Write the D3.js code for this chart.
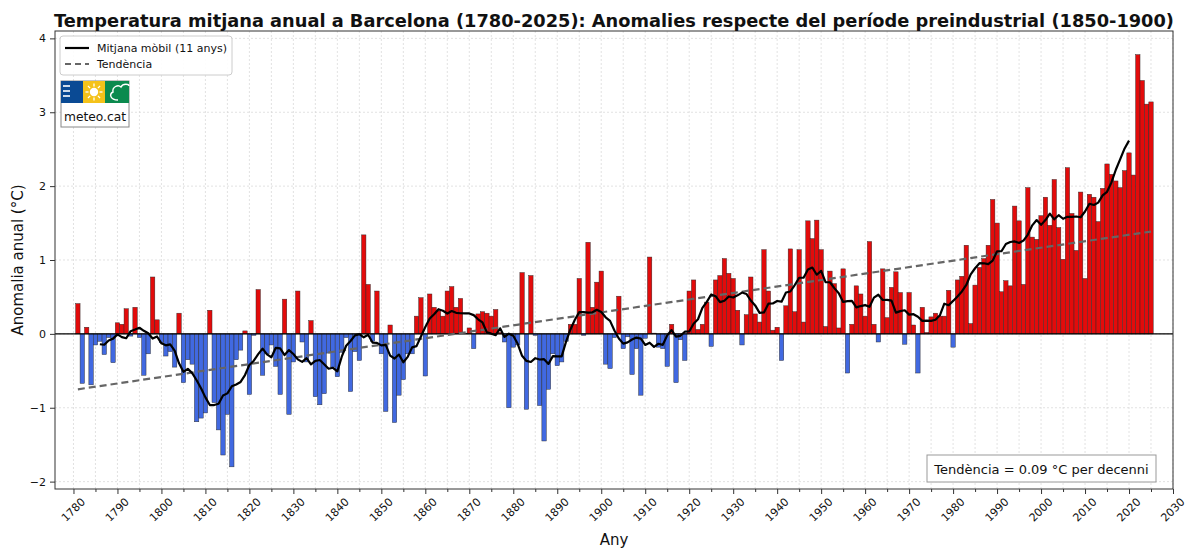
<!DOCTYPE html>
<html>
<head>
<meta charset="utf-8">
<script src="https://cdn.jsdelivr.net/npm/d3@7"></script>
<style>
  body { margin: 0; background: #fff; }
  svg { display: block; }
  text { font-family: "DejaVu Sans", sans-serif; fill: #111; }
</style>
</head>
<body>
<svg id="chart" width="1200" height="560"></svg>
<script>
// anomalies (°C) vs 1850-1900, one value per year starting in 1781
const firstYear = 1781;
const anom1781_1810 = [0.41, -0.67, 0.09, -0.69, -0.15, -0.10, -0.28, -0.05, -0.39, 0.15,
  0.13, 0.34, -0.03, 0.36, -0.05, -0.56, -0.27, 0.77, 0.19, -0.12,
  -0.30, -0.24, -0.45, 0.28, -0.66, -0.35, -0.41, -1.19, -1.14, -1.07];
const anom1811_1850 = [0.32, -0.93, -1.30, -1.64, -1.09, -1.80, -0.35, -0.22, 0.04, -0.82,
  -0.02, 0.60, -0.56, -0.27, -0.15, -0.44, -0.82, 0.47, -1.09, -0.38,
  0.58, -0.11, -0.38, 0.18, -0.85, -0.96, -0.81, -0.26, -0.45, -0.58,
  -0.25, -0.05, -0.78, -0.24, -0.36, 1.34, 0.67, -0.10, 0.58, -0.27];
const anom1851_1890 = [-1.05, 0.12, -1.20, -0.83, -0.62, -0.27, -0.27, 0.24, 0.49, -0.57,
  0.54, 0.36, 0.31, 0.24, 0.58, 0.64, 0.36, 0.48, 0.01, 0.08,
  -0.20, 0.27, 0.30, 0.28, 0.24, 0.33, 0.02, -0.11, -1.00, -0.18,
  -0.15, 0.83, -1.02, 0.79, -0.02, -0.97, -1.45, -0.75, -0.27, -0.43];
const anom1891_1930 = [-0.38, -0.10, 0.13, 0.13, 0.75, -0.02, 1.24, 0.36, 0.70, 0.85,
  -0.41, -0.47, -0.05, 0.51, -0.20, -0.04, -0.55, -0.20, -0.83, -0.06,
  1.04, 0.01, -0.18, -0.20, -0.44, 0.13, -0.66, -0.08, -0.36, 0.58,
  0.73, 0.06, 0.13, 0.43, -0.17, 0.73, 0.79, 1.02, 0.82, 0.75];
const anom1931_1970 = [0.32, -0.15, 0.26, 0.77, 0.27, 0.16, 1.14, 0.58, 0.05, 0.09,
  -0.36, 0.38, 1.15, 0.30, 1.14, 0.16, 1.53, 1.29, 1.54, 1.14,
  0.10, 0.85, 0.68, 0.08, 0.88, -0.53, 0.13, 0.65, 0.54, 0.24,
  1.25, 0.13, -0.11, 0.88, 0.22, 0.63, 0.84, 0.56, -0.14, 0.56];
const anom1971_2025 = [0.12, -0.53, 0.36, 0.02, 0.23, 0.28, 0.24, 0.24, 0.59, -0.18,
  0.73, 0.78, 1.20, 0.14, 0.66, 0.90, 1.02, 1.20, 1.82, 1.50,
  0.57, 0.72, 0.65, 1.73, 1.53, 0.67, 1.98, 1.31, 1.28, 1.60,
  1.85, 1.47, 2.09, 1.44, 1.01, 2.25, 1.63, 1.13, 1.92, 0.75,
  1.89, 1.85, 1.52, 1.97, 2.30, 2.16, 2.07, 1.98, 2.21, 2.45,
  2.15, 3.78, 3.43, 3.11, 3.14];

const anomalies = [].concat(anom1781_1810, anom1811_1850, anom1851_1890,
  anom1891_1930, anom1931_1970, anom1971_2025);
const years = anomalies.map((d, i) => firstYear + i);

const xTicks = [1780, 1790, 1800, 1810, 1820, 1830, 1840, 1850, 1860, 1870, 1880, 1890, 1900,
  1910, 1920, 1930, 1940, 1950, 1960, 1970, 1980, 1990, 2000, 2010, 2020, 2030];
const xMinorTicks = [1785, 1795, 1805, 1815, 1825, 1835, 1845, 1855, 1865, 1875, 1885, 1895,
  1905, 1915, 1925, 1935, 1945, 1955, 1965, 1975, 1985, 1995, 2005, 2015, 2025];
const yTicks = [-2, -1, 0, 1, 2, 3, 4];

const titleText = "Temperatura mitjana anual a Barcelona (1780-2025): Anomalies respecte del període preindustrial (1850-1900)";
const legendLabels = ["Mitjana mòbil (11 anys)", "Tendència"];
const trendLabel = "Tendència = 0.09 °C per decenni";

const data = years.map((y, i) => ({ year: y, value: anomalies[i] }));

// 11-year centred moving average
const half = 5;
const rolling = [];
for (let i = half; i < data.length - half; i++) {
  rolling.push({ year: data[i].year, value: d3.mean(data.slice(i - half, i + half + 1), d => d.value) });
}

// least squares trend
const mx = d3.mean(data, d => d.year), my = d3.mean(data, d => d.value);
const slope = d3.sum(data, d => (d.year - mx) * (d.value - my)) / d3.sum(data, d => (d.year - mx) ** 2);
const intercept = my - slope * mx;
const trend = [years[0], years[years.length - 1]].map(y => ({ year: y, value: intercept + slope * y }));

const margin = { top: 31, right: 27, bottom: 71, left: 55 };
const width = 1200, height = 560;

const x = d3.scaleLinear().domain([1775.8, 2030]).range([margin.left, width - margin.right]);
const y = d3.scaleLinear().domain([-2.1, 4.1]).range([height - margin.bottom, margin.top]);

const svg = d3.select("#chart");

// grid
svg.append("g")
  .selectAll("line")
  .data(xTicks.concat(xMinorTicks))
  .join("line")
  .attr("x1", d => x(d)).attr("x2", d => x(d))
  .attr("y1", y.range()[1]).attr("y2", y.range()[0])
  .attr("stroke", "#d6d6d6").attr("stroke-width", 0.7).attr("stroke-dasharray", "2,2");
svg.append("g")
  .selectAll("line")
  .data(yTicks)
  .join("line")
  .attr("x1", x.range()[0]).attr("x2", x.range()[1])
  .attr("y1", d => y(d)).attr("y2", d => y(d))
  .attr("stroke", "#d6d6d6").attr("stroke-width", 0.7).attr("stroke-dasharray", "2,2");

// bars
svg.append("g")
  .selectAll("rect")
  .data(data)
  .join("rect")
  .attr("x", d => x(d.year - 0.5))
  .attr("width", x(1) - x(0))
  .attr("y", d => y(Math.max(0, d.value)))
  .attr("height", d => Math.abs(y(d.value) - y(0)))
  .attr("fill", d => d.value >= 0 ? "#e30b0b" : "#4169e1")
  .attr("stroke", "#2a2a2a")
  .attr("stroke-width", 0.45);

// zero line
svg.append("line")
  .attr("x1", x.range()[0]).attr("x2", x.range()[1])
  .attr("y1", y(0)).attr("y2", y(0))
  .attr("stroke", "#000").attr("stroke-width", 1.1);

// trend
const line = d3.line().x(d => x(d.year)).y(d => y(d.value));
svg.append("path")
  .datum(trend)
  .attr("d", line)
  .attr("fill", "none")
  .attr("stroke", "#666")
  .attr("stroke-width", 2.2)
  .attr("stroke-dasharray", "7,4");

// moving average
svg.append("path")
  .datum(rolling)
  .attr("d", line)
  .attr("fill", "none")
  .attr("stroke", "#000")
  .attr("stroke-width", 2.2)
  .attr("stroke-linejoin", "round");

// frame
svg.append("rect")
  .attr("x", x.range()[0]).attr("y", y.range()[1])
  .attr("width", x.range()[1] - x.range()[0])
  .attr("height", y.range()[0] - y.range()[1])
  .attr("fill", "none").attr("stroke", "#333").attr("stroke-width", 1);

// x axis
const xAxis = svg.append("g").attr("transform", `translate(0,${y.range()[0]})`);
xAxis.call(d3.axisBottom(x).tickValues(xTicks).tickSize(5).tickFormat(""))
  .call(g => g.select(".domain").remove())
  .call(g => g.selectAll("line").attr("stroke", "#333"));
xAxis.append("g").call(d3.axisBottom(x).tickValues(xMinorTicks).tickSize(3).tickFormat(""))
  .call(g => g.select(".domain").remove())
  .call(g => g.selectAll("line").attr("stroke", "#333"));
xAxis.selectAll(null)
  .data(xTicks)
  .join("text")
  .attr("transform", d => `translate(${x(d)},21) rotate(-45)`)
  .attr("text-anchor", "middle")
  .attr("dominant-baseline", "central")
  .attr("font-size", 11)
  .text(d => d);

// y axis
svg.append("g")
  .attr("transform", `translate(${x.range()[0]},0)`)
  .call(d3.axisLeft(y).tickValues(yTicks).tickSize(5).tickPadding(4).tickFormat(d => d < 0 ? "\u2212" + Math.abs(d) : d))
  .call(g => g.select(".domain").remove())
  .call(g => g.selectAll("line").attr("stroke", "#333"))
  .call(g => g.selectAll("text").attr("font-size", 11).attr("font-family", "DejaVu Sans").attr("fill", "#111"));

// labels
svg.append("text")
  .attr("x", (x.range()[0] + x.range()[1]) / 2).attr("y", 27)
  .attr("text-anchor", "middle")
  .attr("font-size", 17.8).attr("font-weight", "bold")
  .text(titleText);
svg.append("text")
  .attr("x", (x.range()[0] + x.range()[1]) / 2).attr("y", 545)
  .attr("text-anchor", "middle")
  .attr("font-size", 15)
  .text("Any");
svg.append("text")
  .attr("transform", `translate(23,${(y.range()[0] + y.range()[1]) / 2}) rotate(-90)`)
  .attr("text-anchor", "middle")
  .attr("font-size", 15)
  .text("Anomalia anual (°C)");

// legend
const lg = svg.append("g");
lg.append("rect").attr("x", 60).attr("y", 36).attr("width", 172).attr("height", 39)
  .attr("rx", 3).attr("fill", "#fff").attr("fill-opacity", 0.9).attr("stroke", "#ccc");
lg.append("line").attr("x1", 65).attr("x2", 89).attr("y1", 48).attr("y2", 48)
  .attr("stroke", "#000").attr("stroke-width", 2.2);
lg.append("line").attr("x1", 65).attr("x2", 89).attr("y1", 64).attr("y2", 64)
  .attr("stroke", "#666").attr("stroke-width", 2.2).attr("stroke-dasharray", "6,4");
lg.selectAll(null).data(legendLabels).join("text")
  .attr("x", 97).attr("y", (d, i) => 52 + i * 16)
  .attr("font-size", 11)
  .text(d => d);

// meteo.cat logo
const logo = svg.append("g").attr("transform", "translate(61,81)");
logo.append("rect").attr("width", 68).attr("height", 46).attr("fill", "#fff").attr("stroke", "#888");
logo.append("rect").attr("width", 22).attr("height", 22).attr("fill", "#0a4a94");
logo.append("rect").attr("x", 22).attr("width", 22).attr("height", 22).attr("fill", "#f4c21a");
logo.append("rect").attr("x", 44).attr("width", 24).attr("height", 22).attr("fill", "#0b8a4e");
[5, 10, 15].forEach(v => logo.append("line").attr("x1", 2).attr("x2", 9).attr("y1", v).attr("y2", v)
  .attr("stroke", "#fff").attr("stroke-width", 1.6));
logo.append("circle").attr("cx", 33).attr("cy", 11).attr("r", 4.2).attr("fill", "#fff");
d3.range(8).forEach(k => {
  const a = k * Math.PI / 4;
  logo.append("line")
    .attr("x1", 33 + 5.5 * Math.cos(a)).attr("y1", 11 + 5.5 * Math.sin(a))
    .attr("x2", 33 + 8.5 * Math.cos(a)).attr("y2", 11 + 8.5 * Math.sin(a))
    .attr("stroke", "#fff").attr("stroke-width", 1.3);
});
logo.append("path")
  .attr("d", "M57,19 C49,19 48,13 52,11 C51,6 57,3 60,6 C62,2 68,3 68,5")
  .attr("fill", "none").attr("stroke", "#fff").attr("stroke-width", 1.4);
logo.append("text").attr("x", 34).attr("y", 40).attr("text-anchor", "middle")
  .attr("font-size", 12.5).attr("textLength", 62).attr("lengthAdjust", "spacingAndGlyphs")
  .text("meteo.cat");

// trend annotation
svg.append("rect").attr("x", 927).attr("y", 455).attr("width", 229).attr("height", 27)
  .attr("fill", "#fff").attr("stroke", "#999");
svg.append("text").attr("x", 1041.5).attr("y", 473.5).attr("text-anchor", "middle")
  .attr("font-size", 13).text(trendLabel);
</script>
</body>
</html>
